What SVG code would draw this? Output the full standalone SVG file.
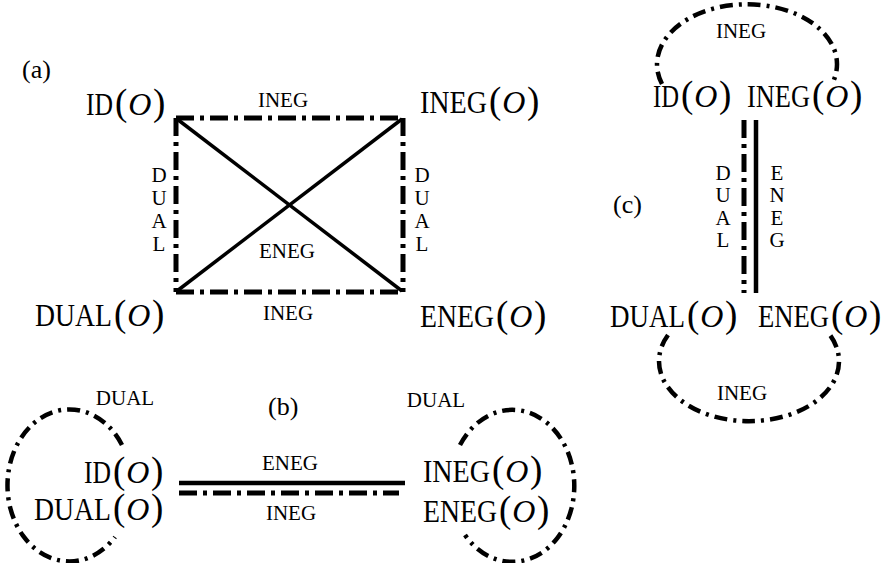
<svg xmlns="http://www.w3.org/2000/svg" width="886" height="563" viewBox="0 0 886 563">
  <style>
    text { font-family: "Liberation Serif", "Times New Roman", serif; fill: #000; }
    .n { font-size: 31px; }
    .q { font-size: 28px; }
    .p { font-size: 37px; }
    .o { font-size: 32px; font-style: italic; }
    .lbl { font-size: 21px; text-anchor: middle; }
    .pan { font-size: 26px; }
    .dd { fill: none; stroke: #000; stroke-width: 5; stroke-dasharray: 18 6 4 6; }
    .loop { fill: none; stroke: #000; stroke-width: 4.5; stroke-dasharray: 13 6 3 6; }
    .solid { fill: none; stroke: #000; stroke-width: 4.5; }
    .diag { fill: none; stroke: #000; stroke-width: 3.5; }
  </style>

  <rect width="886" height="563" fill="#fff"/>

  <!-- connectors -->
  <g id="connectors">
    <!-- (a) square -->
    <path class="dd" d="M176 118 H403"/>
    <path class="dd" d="M176 292 H403"/>
    <path class="dd" d="M176 118 V292"/>
    <path class="dd" d="M403 118 V292"/>
    <path class="diag" d="M177 119 L402 291"/>
    <path class="diag" d="M177 291 L402 119"/>
    <!-- (b) -->
    <path class="solid" d="M179 483 H405"/>
    <path class="dd" stroke-width="4" d="M179 493 H399"/>
    <path class="loop" d="M122 445 A62 76 0 1 0 115 537"/>
    <path class="loop" d="M460 445 A62 76 0 1 1 465 535"/>
    <!-- (c) -->
    <path class="loop" d="M662 84 A90 60 0 1 1 832 84"/>
    <path class="loop" d="M668 335 A90 60 0 1 0 830 335"/>
    <path class="dd" d="M744 120 V293"/>
    <path class="solid" d="M756 120 V293"/>
  </g>

  <!-- edge labels -->
  <g id="edge-labels">
    <text class="lbl" x="283" y="107">INEG</text>
    <text class="lbl" x="288" y="320">INEG</text>
    <text class="lbl" x="287" y="258">ENEG</text>
    <text class="lbl" x="159" y="182">D</text>
    <text class="lbl" x="159" y="205">U</text>
    <text class="lbl" x="159" y="228">A</text>
    <text class="lbl" x="159" y="251">L</text>
    <text class="lbl" x="422" y="182">D</text>
    <text class="lbl" x="422" y="205">U</text>
    <text class="lbl" x="422" y="228">A</text>
    <text class="lbl" x="422" y="251">L</text>
    <text class="lbl" x="290" y="470">ENEG</text>
    <text class="lbl" x="291" y="520">INEG</text>
    <text class="lbl" x="125" y="405">DUAL</text>
    <text class="lbl" x="436" y="407">DUAL</text>
    <text class="lbl" x="741" y="38">INEG</text>
    <text class="lbl" x="742" y="400">INEG</text>
    <text class="lbl" x="723" y="180">D</text>
    <text class="lbl" x="723" y="202">U</text>
    <text class="lbl" x="723" y="225">A</text>
    <text class="lbl" x="723" y="247">L</text>
    <text class="lbl" x="777" y="180">E</text>
    <text class="lbl" x="777" y="202">N</text>
    <text class="lbl" x="777" y="225">E</text>
    <text class="lbl" x="777" y="247">G</text>
  </g>

  <!-- panel captions -->
  <text class="pan" x="22" y="78">(a)</text>
  <text class="pan" x="268" y="415">(b)</text>
  <text class="pan" x="613" y="213">(c)</text>

  <!-- (a) nodes: narrow upright operator name, then (O) with large parentheses -->
  <g id="a-id">
    <text class="n" transform="translate(86 115) scale(0.826 1)">ID</text>
    <text class="q" x="115" y="115"><tspan class="p">(</tspan><tspan class="o" dx="1">O</tspan><tspan class="p" dx="1.5">)</tspan></text>
  </g>
  <g id="a-ineg">
    <text class="n" transform="translate(420 113) scale(0.905 1)">INEG</text>
    <text class="q" x="489" y="113"><tspan class="p">(</tspan><tspan class="o" dx="1">O</tspan><tspan class="p" dx="1.5">)</tspan></text>
  </g>
  <g id="a-dual">
    <text class="n" transform="translate(35 326) scale(0.894 1)">DUAL</text>
    <text class="q" x="114" y="326"><tspan class="p">(</tspan><tspan class="o" dx="1">O</tspan><tspan class="p" dx="1.5">)</tspan></text>
  </g>
  <g id="a-eneg">
    <text class="n" transform="translate(420 327) scale(0.896 1)">ENEG</text>
    <text class="q" x="496" y="327"><tspan class="p">(</tspan><tspan class="o" dx="1">O</tspan><tspan class="p" dx="1.5">)</tspan></text>
  </g>

  <!-- (b) nodes -->
  <g id="b-id">
    <text class="n" transform="translate(84 483) scale(0.826 1)">ID</text>
    <text class="q" x="113" y="483"><tspan class="p">(</tspan><tspan class="o" dx="1">O</tspan><tspan class="p" dx="1.5">)</tspan></text>
  </g>
  <g id="b-dual">
    <text class="n" transform="translate(34 520) scale(0.894 1)">DUAL</text>
    <text class="q" x="113" y="520"><tspan class="p">(</tspan><tspan class="o" dx="1">O</tspan><tspan class="p" dx="1.5">)</tspan></text>
  </g>
  <g id="b-ineg">
    <text class="n" transform="translate(423 482) scale(0.905 1)">INEG</text>
    <text class="q" x="492" y="482"><tspan class="p">(</tspan><tspan class="o" dx="1">O</tspan><tspan class="p" dx="1.5">)</tspan></text>
  </g>
  <g id="b-eneg">
    <text class="n" transform="translate(423 522) scale(0.896 1)">ENEG</text>
    <text class="q" x="499" y="522"><tspan class="p">(</tspan><tspan class="o" dx="1">O</tspan><tspan class="p" dx="1.5">)</tspan></text>
  </g>

  <!-- (c) nodes -->
  <g id="c-id">
    <text class="n" transform="translate(653 107) scale(0.795 1)">ID</text>
    <text class="q" x="681" y="107"><tspan class="p">(</tspan><tspan class="o" dx="1">O</tspan><tspan class="p" dx="1.5">)</tspan></text>
  </g>
  <g id="c-ineg">
    <text class="n" transform="translate(747 107) scale(0.851 1)">INEG</text>
    <text class="q" x="812" y="107"><tspan class="p">(</tspan><tspan class="o" dx="1">O</tspan><tspan class="p" dx="1.5">)</tspan></text>
  </g>
  <g id="c-dual">
    <text class="n" transform="translate(610 327) scale(0.871 1)">DUAL</text>
    <text class="q" x="687" y="327"><tspan class="p">(</tspan><tspan class="o" dx="1">O</tspan><tspan class="p" dx="1.5">)</tspan></text>
  </g>
  <g id="c-eneg">
    <text class="n" transform="translate(758 327) scale(0.86 1)">ENEG</text>
    <text class="q" x="831" y="327"><tspan class="p">(</tspan><tspan class="o" dx="1">O</tspan><tspan class="p" dx="1.5">)</tspan></text>
  </g>
</svg>
